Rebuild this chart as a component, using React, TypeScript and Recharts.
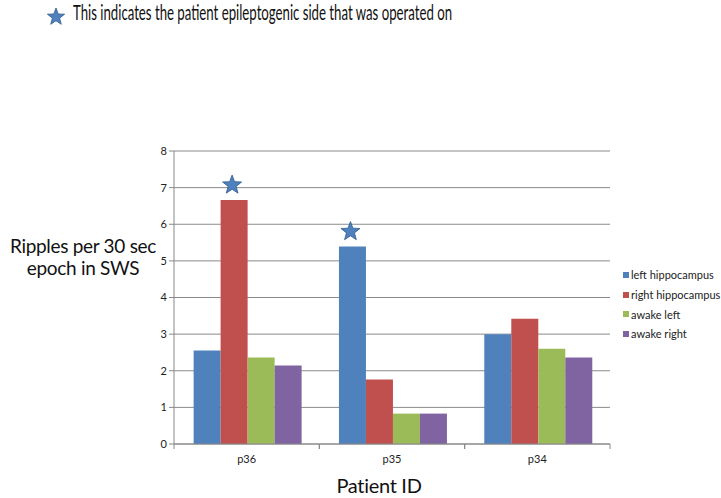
import { BarChart, Bar, XAxis, YAxis, CartesianGrid, LabelList } from "recharts"

const patients = ["p36", "p35", "p34"]
const leftHippo = [2.55, 5.39, 3.0]
const rightHippo = [6.66, 1.76, 3.42]
const awakeLeft = [2.36, 0.83, 2.6]
const awakeRight = [2.14, 0.83, 2.36]
const operatedLeft = [false, true, false]
const operatedRight = [true, false, false]
const yTicks = [0, 1, 2, 3, 4, 5, 6, 7, 8]

const series = [
  { key: "left", name: "left hippocampus", color: "#4F81BD" },
  { key: "right", name: "right hippocampus", color: "#C0504D" },
  { key: "awakeL", name: "awake left", color: "#9BBB59" },
  { key: "awakeR", name: "awake right", color: "#8064A2" },
]

const data = patients.map((p, i) => ({
  patient: p,
  left: leftHippo[i],
  right: rightHippo[i],
  awakeL: awakeLeft[i],
  awakeR: awakeRight[i],
  starL: operatedLeft[i],
  starR: operatedRight[i],
}))

const font = "Lato, 'Open Sans', sans-serif"

function starPath(cx: number, cy: number, r: number) {
  const pts: string[] = []
  for (let i = 0; i < 10; i++) {
    const rad = i % 2 === 0 ? r : r * 0.42
    const a = -Math.PI / 2 + (i * Math.PI) / 5
    pts.push(`${cx + rad * Math.cos(a)},${cy + rad * Math.sin(a)}`)
  }
  return "M" + pts.join("L") + "Z"
}

function Star({ x, y, width, value }: any) {
  if (!value) return null
  return <path d={starPath(x + width / 2 - 2, y - 15, 10)} fill="#4F81BD" stroke="#2E5A8C" strokeWidth={0.8} />
}

const PLOT_W = 436
const half = PLOT_W / patients.length / 2

function XTick({ x, y, payload }: any) {
  return (
    <g>
      <line x1={x - half} x2={x - half} y1={y - 8} y2={y - 3} stroke="#888" />
      <line x1={x + half} x2={x + half} y1={y - 8} y2={y - 3} stroke="#888" />
      <text x={x} y={y + 11} textAnchor="middle" fontSize={11} fill="#222" fontFamily={font}>
        {payload.value}
      </text>
    </g>
  )
}

export default function App() {
  return (
    <div style={{ position: "absolute", left: 0, top: 0, width: 721, height: 498, background: "#fff" }}>
      <svg style={{ position: "absolute", left: 0, top: 0 }} width={721} height={40}>
        <path d={starPath(56, 17, 9)} fill="#4F81BD" stroke="#2E5A8C" strokeWidth={0.8} />
        <text x={73} y={20} fontFamily={font} fontSize={21} fill="#111" textLength={379} lengthAdjust="spacingAndGlyphs">
          This indicates the patient epileptogenic side that was operated on
        </text>
      </svg>
      <div style={{ position: "absolute", left: 0, top: 235, width: 166, textAlign: "center", fontFamily: font, fontSize: 19, lineHeight: "22px", color: "#111", letterSpacing: -0.3 }}>
        Ripples per 30 sec<br />epoch in SWS
      </div>
      <div style={{ position: "absolute", left: 279, width: 200, top: 473, textAlign: "center", fontFamily: font, fontSize: 20, color: "#111", letterSpacing: -0.3 }}>
        Patient ID
      </div>
      <div style={{ position: "absolute", left: 623, top: 265, fontFamily: font, fontSize: 11, color: "#222", whiteSpace: "nowrap" }}>
        {series.map((s) => (
          <div key={s.key} style={{ display: "flex", alignItems: "center", height: 19.7 }}>
            <span style={{ width: 6, height: 6, background: s.color, marginRight: 2, display: "inline-block" }} />
            {s.name}
          </div>
        ))}
      </div>
      <BarChart
        width={721}
        height={498}
        data={data}
        margin={{ top: 151, right: 111, left: 134, bottom: 34 }}
        barCategoryGap="13.5%"
        barGap={0}
      >
        <CartesianGrid horizontal vertical={false} stroke="#8a8a8a" strokeWidth={1} />
        <XAxis dataKey="patient" height={20} stroke="#888" tickLine={false} tick={<XTick />} />
        <YAxis
          width={40}
          domain={[0, 8]}
          ticks={yTicks}
          stroke="#888"
          tickSize={5}
          tick={{ fontSize: 11, fill: "#222", fontFamily: font }}
          interval={0}
        />
        {series.map((s) => (
          <Bar key={s.key} dataKey={s.key} name={s.name} fill={s.color} isAnimationActive={false}>
            {s.key === "left" && <LabelList dataKey="starL" content={<Star />} />}
            {s.key === "right" && <LabelList dataKey="starR" content={<Star />} />}
          </Bar>
        ))}
      </BarChart>
    </div>
  )
}
